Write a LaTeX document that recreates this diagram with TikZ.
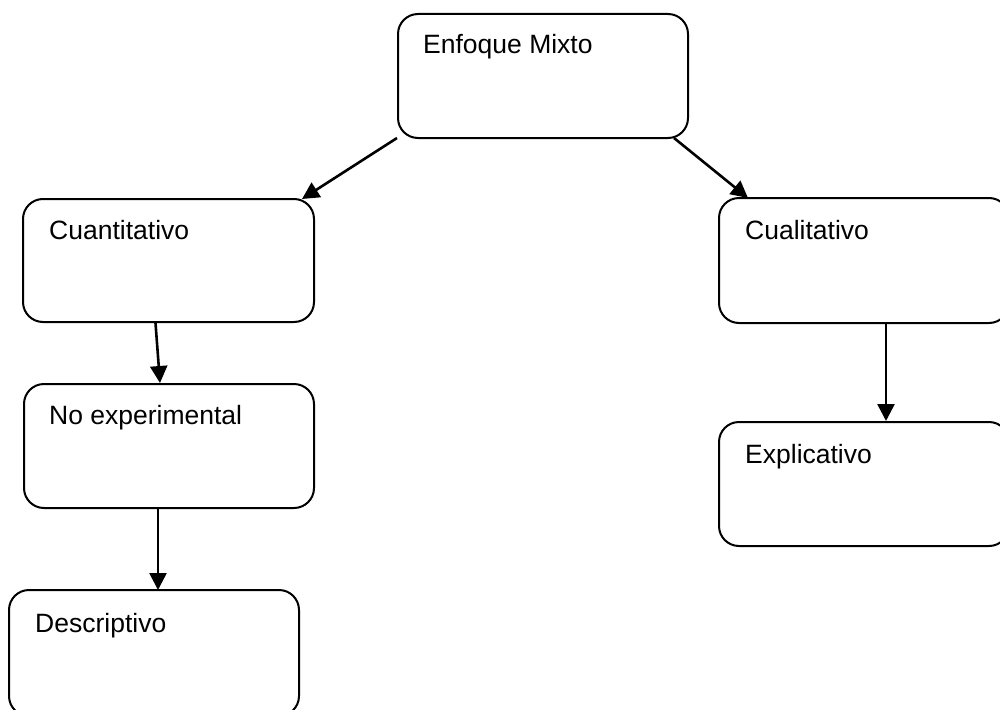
\documentclass[tikz,border=0pt]{standalone}
\usepackage{fontspec}
\setmainfont{Liberation Sans}
\usetikzlibrary{arrows.meta}
\begin{document}
\begin{tikzpicture}[x=1pt,y=-1pt,
  box/.style={draw=black, line width=2pt, rounded corners=20pt, anchor=north west, inner sep=0pt},
  txt/.style={anchor=base west, inner sep=0pt, font=\fontsize{26.5}{30}\selectfont},
  arr/.style={line width=2.6pt, -{Triangle[length=17pt,width=17pt]}}]
\useasboundingbox (0,0) rectangle (1000,709);
\fill[white] (0,0) rectangle (1000,709);
\node[box, minimum width=290pt, minimum height=124pt] (mixto) at (397,13) {};
\node[box, minimum width=291pt, minimum height=123pt] (cuant) at (22,198) {};
\node[box, minimum width=290pt, minimum height=125pt] (cual) at (718,197) {};
\node[box, minimum width=290pt, minimum height=124pt] (noexp) at (23,383) {};
\node[box, minimum width=290pt, minimum height=124pt] (expl) at (718,421) {};
\node[box, minimum width=290pt, minimum height=126pt] (desc) at (8,589) {};
\node[txt] (mixtoT) at (423,54) {Enfoque Mixto};
\node[txt] (cuantT) at (49,239) {Cuantitativo};
\node[txt] (cualT) at (745,239) {Cualitativo};
\node[txt] (noexpT) at (49,424) {No experimental};
\node[txt] (explT) at (745,463) {Explicativo};
\node[txt] (descT) at (35,632) {Descriptivo};
\draw[arr] ([yshift=1pt]mixto.south west) -- ([xshift=-13pt,yshift=-1pt]cuant.north east);
\draw[arr] ([xshift=-15pt,yshift=1pt]mixto.south east) -- ([xshift=30pt,yshift=-1pt]cual.north west);
\draw[arr] ([xshift=-13pt]cuant.south) -- ([xshift=-9pt]noexp.north);
\draw[arr] ([xshift=-11pt]noexp.south) -- ([xshift=-11pt,yshift=-1pt]desc.north -| noexp.south);
\draw[arr] ([xshift=22pt]cual.south) -- ([xshift=22pt]expl.north);
\end{tikzpicture}
\end{document}
